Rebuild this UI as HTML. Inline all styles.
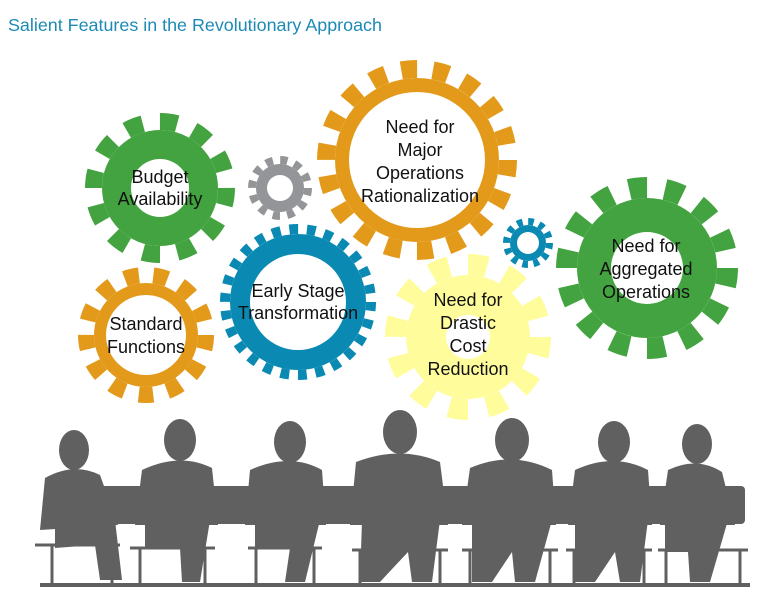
<!DOCTYPE html>
<html><head><meta charset="utf-8"><style>
html,body{margin:0;padding:0;background:#fff;width:766px;height:608px;overflow:hidden}
svg{display:block}
text{font-family:"Liberation Sans",Arial,sans-serif}
</style></head><body>
<svg width="766" height="608" viewBox="0 0 766 608" xmlns="http://www.w3.org/2000/svg">
<text x="8" y="31" font-size="17.9" fill="#1b8ab5">Salient Features in the Revolutionary Approach</text>

<!-- green gear 1 -->
<circle cx="160" cy="188" r="58" fill="#43a340"/>
<circle cx="160" cy="188" r="66.5" fill="none" stroke="#43a340" stroke-width="17" stroke-dasharray="17.4 17.4"/>
<circle cx="160" cy="188" r="29" fill="#fff"/>
<!-- gray -->
<circle cx="280" cy="188" r="24" fill="#939598"/>
<circle cx="280" cy="188" r="28" fill="none" stroke="#939598" stroke-width="8" stroke-dasharray="7.33 7.33"/>
<circle cx="280" cy="188" r="13" fill="#fff"/>
<!-- big orange -->
<circle cx="417" cy="160" r="82" fill="#e39a1b"/>
<circle cx="417" cy="160" r="91" fill="none" stroke="#e39a1b" stroke-width="18" stroke-dasharray="15.88 15.88"/>
<circle cx="417" cy="160" r="68" fill="#fff"/>
<!-- blue -->
<circle cx="298" cy="302" r="68" fill="#0a8ab3"/>
<circle cx="298" cy="302" r="73" fill="none" stroke="#0a8ab3" stroke-width="10" stroke-dasharray="8.82 8.82"/>
<circle cx="298" cy="302" r="48" fill="#fff"/>
<!-- small orange -->
<circle cx="146" cy="335" r="52" fill="#e39a1b"/>
<circle cx="146" cy="335" r="60" fill="none" stroke="#e39a1b" stroke-width="16" stroke-dasharray="14.5 14.5"/>
<circle cx="146" cy="335" r="40" fill="#fff"/>
<!-- yellow -->
<circle cx="468" cy="337" r="62" fill="#fffc9c"/>
<circle cx="468" cy="337" r="72.5" fill="none" stroke="#fffc9c" stroke-width="21" stroke-dasharray="18.98 18.98"/>
<circle cx="468" cy="337" r="22" fill="#fff"/>
<!-- small blue -->
<circle cx="528" cy="243" r="18" fill="#0a8ab3"/>
<circle cx="528" cy="243" r="21.5" fill="none" stroke="#0a8ab3" stroke-width="7" stroke-dasharray="5.63 5.63"/>
<circle cx="528" cy="243" r="11" fill="#fff"/>
<!-- green 2 -->
<circle cx="647" cy="268" r="70" fill="#43a340"/>
<circle cx="647" cy="268" r="80.5" fill="none" stroke="#43a340" stroke-width="21" stroke-dasharray="18.06 18.06"/>
<circle cx="647" cy="268" r="36" fill="#fff"/>

<g font-size="18" fill="#111" text-anchor="middle">
<text x="160" y="183">Budget</text><text x="160" y="205">Availability</text>
<text x="420" y="133">Need for</text><text x="420" y="156">Major</text><text x="420" y="179">Operations</text><text x="420" y="202">Rationalization</text>
<text x="298" y="297">Early Stage</text><text x="298" y="319">Transformation</text>
<text x="146" y="330">Standard</text><text x="146" y="353">Functions</text>
<text x="468" y="306">Need for</text><text x="468" y="329">Drastic</text><text x="468" y="352">Cost</text><text x="468" y="375">Reduction</text>
<text x="646" y="252">Need for</text><text x="646" y="275">Aggregated</text><text x="646" y="298">Operations</text>
</g>

<!-- meeting silhouettes -->
<g fill="#606060" stroke="none">
<rect x="45" y="486" width="700" height="38" rx="4"/>
<g>
<ellipse cx="74" cy="450" rx="15" ry="20"/><path d="M45 478 Q74 462 100 475 L118 525 L40 530 Z"/><path d="M55 520 L115 520 L122 580 L100 580 L95 545 L55 548 Z"/>
<ellipse cx="180" cy="440" rx="16" ry="21"/><path d="M142 470 Q180 452 212 468 L218 525 L135 525 Z"/><path d="M145 520 L210 520 L200 582 L182 582 L180 548 L145 548 Z"/>
<ellipse cx="290" cy="442" rx="16" ry="21"/><path d="M250 470 Q290 452 322 470 L326 525 L245 525 Z"/><path d="M255 520 L320 520 L305 582 L285 582 L290 548 L255 548 Z"/>
<ellipse cx="400" cy="432" rx="17" ry="22"/><path d="M356 462 Q400 445 440 462 L448 525 L350 525 Z"/><path d="M362 520 L440 520 L432 582 L412 582 L408 552 L380 582 L360 582 Z"/>
<ellipse cx="512" cy="440" rx="17" ry="22"/><path d="M470 468 Q512 450 552 470 L556 525 L462 525 Z"/><path d="M472 520 L552 520 L535 582 L515 582 L512 552 L492 582 L472 582 Z"/>
<ellipse cx="614" cy="442" rx="16" ry="21"/><path d="M575 470 Q614 452 648 470 L652 525 L568 525 Z"/><path d="M575 520 L648 520 L640 582 L620 582 L615 552 L595 582 L575 582 Z"/>
<ellipse cx="697" cy="444" rx="15" ry="20"/><path d="M668 470 Q697 456 722 472 L735 525 L660 525 Z"/><path d="M665 520 L728 520 L710 582 L690 582 L688 552 L665 552 Z"/>
</g>
<g stroke="#606060" stroke-width="3" fill="none">
<path d="M35 545 L120 545 M112 545 L112 585 M52 545 L52 585"/>
<path d="M130 548 L215 548 M140 548 L140 585 M205 548 L205 585"/>
<path d="M248 548 L322 548 M256 548 L256 585 M314 548 L314 585"/>
<path d="M352 550 L448 550 M360 550 L360 585 M440 550 L440 585"/>
<path d="M462 550 L558 550 M470 550 L470 585 M550 550 L550 585"/>
<path d="M566 550 L652 550 M574 550 L574 585 M644 550 L644 585"/>
<path d="M658 550 L748 550 M666 550 L666 585 M740 550 L740 585"/>
<path d="M40 585 L750 585" stroke-width="4"/>
</g>
</g>
</svg>
</body></html>
